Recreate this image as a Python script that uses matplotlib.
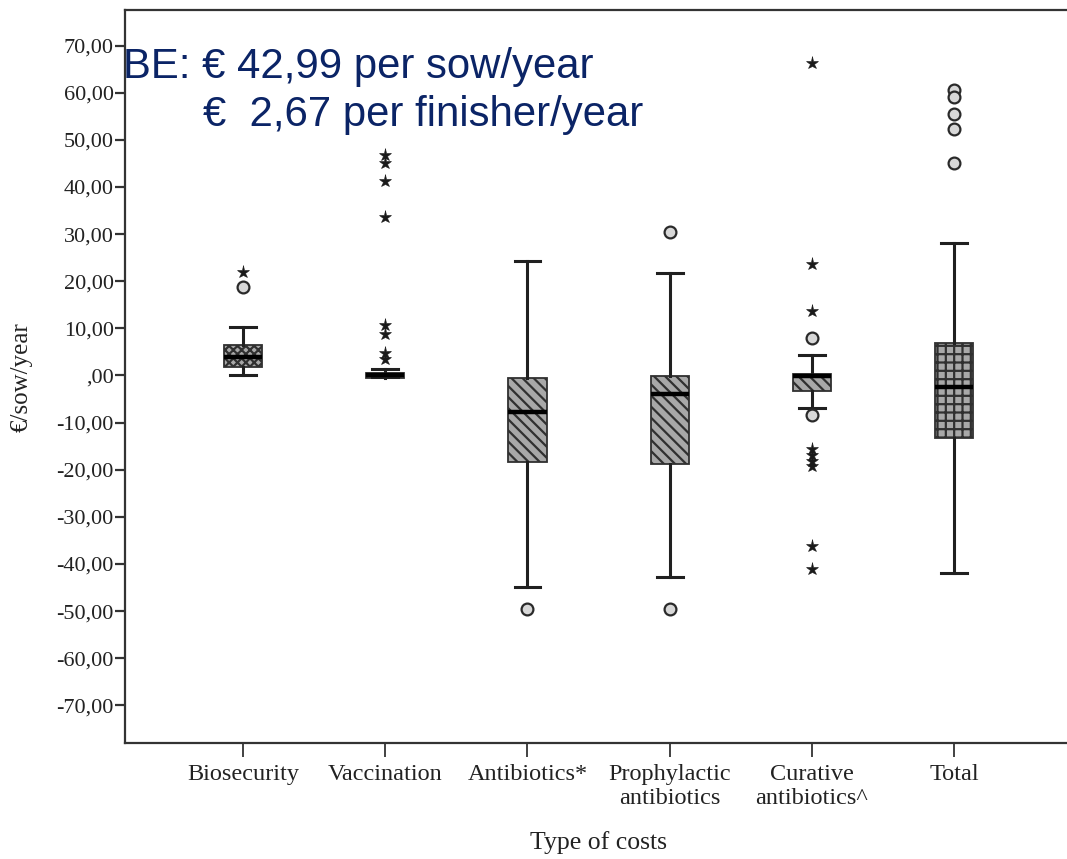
import matplotlib
matplotlib.use("Agg")
import matplotlib.pyplot as plt
from matplotlib import rcParams
from matplotlib.ticker import FuncFormatter

# Categories and box statistics (in €/sow/year)
categories = ['Biosecurity', 'Vaccination', 'Antibiotics*', 'Prophylactic\nantibiotics',
              'Curative\nantibiotics^', 'Total']
whisker_low = [0.0, -0.4, -44.8, -42.7, -7.0, -42.0]
q1 = [1.8, -0.5, -18.3, -18.7, -3.2, -13.2]
median = [3.9, 0.1, -7.7, -3.9, -0.1, -2.5]
q3 = [6.5, 0.6, -0.5, -0.1, 0.4, 6.8]
whisker_high = [10.3, 1.4, 24.3, 21.7, 4.3, 28.2]

# outliers (circles) and extreme values (stars)
outliers = [[18.8], [], [-49.5], [30.4, -49.5], [7.9, -8.4],
            [60.5, 59.0, 55.6, 52.4, 45.2]]
extremes = [[21.9], [46.7, 45.0, 41.2, 33.6, 10.7, 8.8, 4.8, 3.4], [], [],
            [66.4, 23.6, 13.7, -15.6, -16.8, -18.1, -19.2, -36.1, -41.0], []]

hatches = ['xxxx', '\\\\\\', '\\\\\\', '\\\\\\', '\\\\\\', '++']
y_ticks = list(range(-70, 80, 10))

rcParams['font.family'] = 'serif'
rcParams['font.serif'] = ['Liberation Serif', 'DejaVu Serif']
rcParams['hatch.color'] = '#3a3a3a'
rcParams['hatch.linewidth'] = 1.6

fig = plt.figure(figsize=(10.67, 8.59), dpi=100)
ax = fig.add_axes([0.117, 0.135, 0.888, 0.853])

stats = []
for i in range(len(categories)):
    stats.append(dict(med=median[i], q1=q1[i], q3=q3[i],
                      whislo=whisker_low[i], whishi=whisker_high[i], fliers=[]))

pos = list(range(1, len(categories) + 1))
res = ax.bxp(stats, positions=pos, widths=0.27, patch_artist=True, showfliers=False,
             boxprops=dict(edgecolor='#303030', linewidth=1.3),
             whiskerprops=dict(color='#202020', linewidth=2.2),
             capprops=dict(color='#202020', linewidth=2.2),
             medianprops=dict(color='black', linewidth=3.2))
for box, h in zip(res['boxes'], hatches):
    box.set_facecolor('#a8a8a8')
    box.set_hatch(h)
for cap in res['caps']:
    x0, x1 = cap.get_xdata()
    c = (x0 + x1) / 2
    cap.set_xdata([c - 0.09, c + 0.09])

for p, vals in zip(pos, outliers):
    if vals:
        ax.plot([p] * len(vals), vals, linestyle='none', marker='o', markersize=8.5,
                markerfacecolor='#d8d8d8', markeredgecolor='#2a2a2a', markeredgewidth=1.6)
for p, vals in zip(pos, extremes):
    if vals:
        ax.plot([p] * len(vals), vals, linestyle='none', marker='*', markersize=9.5,
                markerfacecolor='#1a1a1a', markeredgecolor='#1a1a1a', markeredgewidth=0.4)

ax.set_xlim(0.17, 6.83)
ax.set_ylim(-78, 77.5)
ax.set_yticks(y_ticks)
ax.yaxis.set_major_formatter(FuncFormatter(
    lambda v, _: (',00' if v == 0 else f'{v:.2f}'.replace('.', ','))))
ax.set_xticks(pos)
ax.set_xticklabels(categories, fontsize=17.5, linespacing=1.2)

for side in ['left', 'bottom', 'top', 'right']:
    ax.spines[side].set_color('#333333')
    ax.spines[side].set_linewidth(1.6)
ax.tick_params(axis='y', direction='out', length=7, width=1.6, color='#333333',
               labelsize=16, labelcolor='#222222', pad=1)
ax.tick_params(axis='x', direction='out', length=10, width=1.3, color='#333333',
               labelcolor='#222222', pad=5)

ax.set_ylabel('€/sow/year', fontsize=18, color='#222222', labelpad=17)
ax.set_xlabel('Type of costs', fontsize=18.5, color='#222222', labelpad=16)

navy = '#0b2466'
fig.text(123 / 1067, 1 - 67 / 859, 'BE: € 42,99 per sow/year', family='Liberation Sans',
         fontsize=30.2, color=navy, va='center', ha='left')
fig.text(203 / 1067, 1 - 115 / 859, '€  2,67 per finisher/year', family='Liberation Sans',
         fontsize=30.2, color=navy, va='center', ha='left')

fig.savefig('out.png', dpi=100)
